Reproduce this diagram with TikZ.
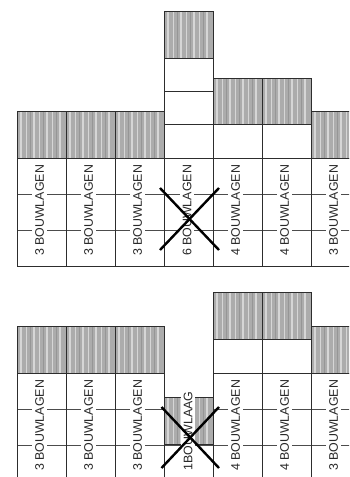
\documentclass[tikz,border=0pt]{standalone}
\usepackage{fontspec}
\setmainfont{Liberation Sans}
\definecolor{roofgray}{RGB}{172,172,172}
\definecolor{stripe}{RGB}{214,214,214}
\definecolor{stripedk}{RGB}{150,150,150}
\definecolor{linec}{RGB}{45,45,45}
\definecolor{textc}{RGB}{40,40,40}
\tikzset{
  frame/.style={draw=linec, line width=0.9pt},
  gridline/.style={draw=black!70, line width=0.7pt},
  lbl/.style={rotate=90, fill=white, inner sep=3pt, text=textc, font=\fontsize{12.4}{14}\selectfont},
  cross/.style={draw=black, line width=2.4pt}
}
\newcommand{\roofbox}[4]{%
  \fill[roofgray] (#1,#2) rectangle (#3,#4);
  \foreach \o in {4,9.5,17,22.5,30,35.5,43}{\draw[stripe,line width=1.4pt] ({#1+\o},#2) -- ({#1+\o},#4);}
  \foreach \o in {13,26,39}{\draw[stripedk,line width=0.8pt] ({#1+\o},#2) -- ({#1+\o},#4);}
  \draw[frame] (#1,#2) rectangle (#3,#4);
}
\begin{document}
\begin{tikzpicture}[x=1pt,y=-1pt]
\useasboundingbox (0,0) rectangle (349,477);
\clip (0,0) rectangle (349,477);
% ---------------- top diagram ----------------
% roofs
\roofbox{17}{111}{66}{158}
\roofbox{66}{111}{115}{158}
\roofbox{115}{111}{164}{158}
\roofbox{164}{11}{213}{58}
\roofbox{213}{78}{262}{124}
\roofbox{262}{78}{311}{124}
\roofbox{311}{111}{360}{158}
% white upper floors
\draw[frame] (164,58) rectangle (213,91);
\draw[frame] (164,91) rectangle (213,124);
\draw[frame] (164,124) rectangle (213,158);
\draw[frame] (213,124) rectangle (262,158);
\draw[frame] (262,124) rectangle (311,158);
% floor lines in text region
\draw[gridline] (17,194) -- (360,194);
\draw[gridline] (17,230) -- (360,230);
\draw[frame] (17,158) -- (360,158);
\draw[frame] (17,266) -- (360,266);
\foreach \x in {17,66,115,164,213,262,311}{\draw[frame] (\x,158) -- (\x,266);}
% labels
\node[lbl] (t1) at (39.5,210.5) {3 BOUWLAGEN};
\node[lbl] (t2) at (88.5,210.5) {3 BOUWLAGEN};
\node[lbl] (t3) at (137.5,210.5) {3 BOUWLAGEN};
\node[lbl] (t4) at (187,210.5) {6 BOUWLAGEN};
\node[lbl] (t5) at (235.5,210.5) {4 BOUWLAGEN};
\node[lbl] (t6) at (284.5,210.5) {4 BOUWLAGEN};
\node[lbl] (t7) at (333.5,210.5) {3 BOUWLAGEN};
% cross
\coordinate (xa1) at (160,188);
\coordinate (xa2) at (219,250);
\coordinate (xa3) at (160,250);
\coordinate (xa4) at (219,188);
\draw[cross] (xa1) -- (xa2);
\draw[cross] (xa3) -- (xa4);
% ---------------- bottom diagram ----------------
\roofbox{17}{326}{66}{373}
\roofbox{66}{326}{115}{373}
\roofbox{115}{326}{164}{373}
\roofbox{213}{292}{262}{339}
\roofbox{262}{292}{311}{339}
\roofbox{311}{326}{360}{373}
\draw[frame] (213,339) rectangle (262,373);
\draw[frame] (262,339) rectangle (311,373);
\draw[frame] (17,373) -- (164,373);
\draw[frame] (213,373) -- (360,373);
\draw[gridline] (17,409) -- (360,409);
\draw[gridline] (17,445) -- (360,445);
\roofbox{164}{397}{213}{444}
\foreach \x in {17,66,115,164,213,262,311}{\draw[frame] (\x,373) -- (\x,480);}
\node[lbl] (b1) at (39.5,425.5) {3 BOUWLAGEN};
\node[lbl] (b2) at (88.5,425.5) {3 BOUWLAGEN};
\node[lbl] (b3) at (137.5,425.5) {3 BOUWLAGEN};
\node[lbl] (b4) at (188,431) {1BOUWLAAG};
\node[lbl] (b5) at (235.5,425.5) {4 BOUWLAGEN};
\node[lbl] (b6) at (284.5,425.5) {4 BOUWLAGEN};
\node[lbl] (b7) at (333.5,425.5) {3 BOUWLAGEN};
\coordinate (xb1) at (161.5,407);
\coordinate (xb2) at (219,468);
\coordinate (xb3) at (161.5,468);
\coordinate (xb4) at (219,407);
\draw[cross] (xb1) -- (xb2);
\draw[cross] (xb3) -- (xb4);
\end{tikzpicture}
\end{document}
